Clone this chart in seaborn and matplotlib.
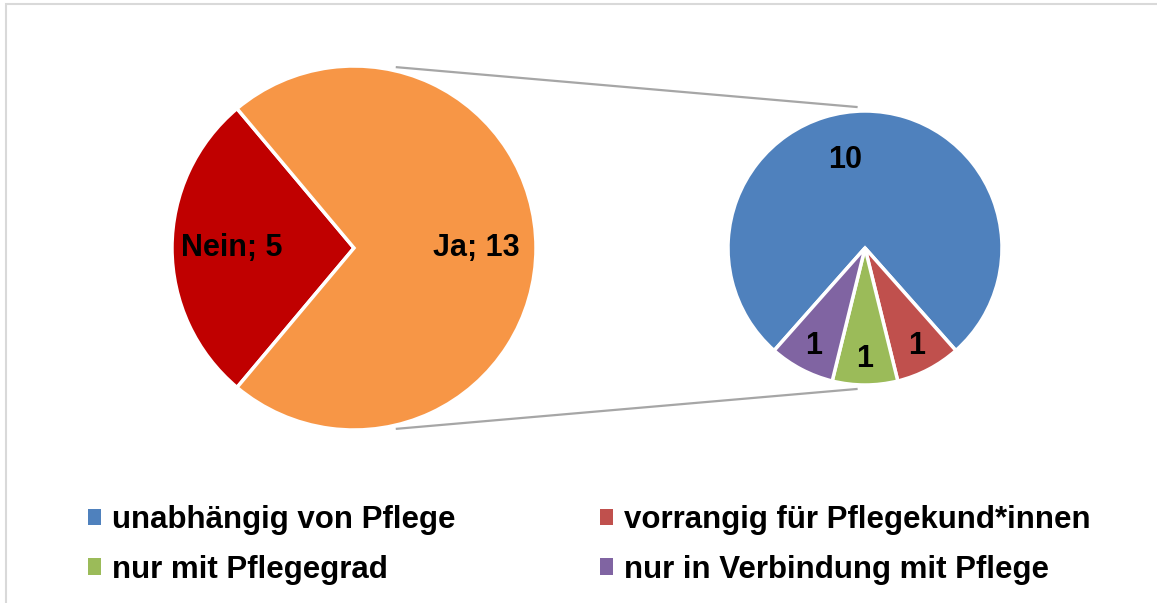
import matplotlib.pyplot as plt
import numpy as np
import seaborn as sns
from matplotlib.patches import Patch, Rectangle


# Hauptkreis: Angebot vorhanden?
MAIN_LABELS = ["Nein", "Ja"]
MAIN_VALUES = [5, 13]
MAIN_COLORS = ["#C00000", "#F79646"]

# Nebenkreis: Aufteilung der "Ja"-Antworten
SUB_LABELS = [
    "unabhängig von Pflege",
    "vorrangig für Pflegekund*innen",
    "nur mit Pflegegrad",
    "nur in Verbindung mit Pflege",
]
SUB_VALUES = [10, 1, 1, 1]
SUB_COLORS = ["#4F81BD", "#C0504D", "#9BBB59", "#8064A2"]

FIG_W, FIG_H = 1157, 603


def point_on(center, radius, angle_deg, scale=1.0):
    a = np.deg2rad(angle_deg)
    return (center[0] + scale * radius * np.cos(a), center[1] + scale * radius * np.sin(a))


def main() -> None:
    sns.set_theme(style="white")
    plt.rcParams["font.family"] = ["Liberation Sans", "DejaVu Sans"]

    fig = plt.figure(figsize=(FIG_W / 100, FIG_H / 100), dpi=100)
    ax = fig.add_axes([0, 0, 1, 1])

    main_center, main_radius = (354, FIG_H - 248), 182
    sub_center, sub_radius = (865, FIG_H - 248), 137

    label_style = {"fontsize": 22, "fontweight": "bold", "color": "black",
                   "ha": "center", "va": "center"}

    # Nein-Segment zentriert links
    main_start = 180 - MAIN_VALUES[0] / sum(MAIN_VALUES) * 180
    wedges, texts = ax.pie(
        MAIN_VALUES,
        labels=[f"{lab}; {val}" for lab, val in zip(MAIN_LABELS, MAIN_VALUES)],
        colors=MAIN_COLORS,
        startangle=main_start,
        center=main_center,
        radius=main_radius,
        labeldistance=0.67,
        wedgeprops={"edgecolor": "white", "linewidth": 2.5},
        textprops=label_style,
    )
    for t in texts:
        t.set_ha("center")

    # kleine Segmente unten zentriert, im Uhrzeigersinn
    small_share = sum(SUB_VALUES[1:]) / sum(SUB_VALUES) * 360
    sub_start = 270 - small_share / 2
    sub_wedges, sub_texts = ax.pie(
        SUB_VALUES,
        labels=[str(v) for v in SUB_VALUES],
        colors=SUB_COLORS,
        startangle=sub_start,
        counterclock=False,
        center=sub_center,
        radius=sub_radius,
        labeldistance=0.81,
        wedgeprops={"edgecolor": "white", "linewidth": 2.5},
        textprops=label_style,
    )
    for t in sub_texts:
        t.set_ha("center")
    x, y = sub_texts[0].get_position()
    sub_texts[0].set_position((x - 20, y - 23))

    # Verbindungslinien
    for sign in (1, -1):
        p0 = point_on(main_center, main_radius, sign * 77, 1.02)
        p1 = point_on(sub_center, sub_radius, sign * 93, 1.03)
        ax.plot([p0[0], p1[0]], [p0[1], p1[1]], color="#A6A6A6", lw=1.6,
                solid_capstyle="butt", zorder=0)

    ax.set_xlim(0, FIG_W)
    ax.set_ylim(0, FIG_H)
    ax.set_aspect("equal")
    ax.axis("off")

    # Rahmen des Diagrammbereichs
    fig.patches.append(Rectangle((6 / FIG_W, -0.1), 1.2, 1.1 - 4 / FIG_H,
                                 transform=fig.transFigure, fill=False,
                                 edgecolor="#D9D9D9", lw=1.5))

    order = [0, 2, 1, 3]
    handles = [Patch(facecolor=SUB_COLORS[i], edgecolor="none") for i in order]
    labels = [SUB_LABELS[i] for i in order]
    fig.legend(
        handles,
        labels,
        ncol=2,
        loc="upper left",
        bbox_to_anchor=(88 / FIG_W, 1 - 505 / FIG_H),
        frameon=False,
        prop={"weight": "bold", "size": 22.5},
        labelcolor="black",
        handlelength=0.42,
        handleheight=0.42,
        handletextpad=0.35,
        columnspacing=4.62,
        labelspacing=0.63,
        borderpad=0,
        borderaxespad=0,
    )

    fig.savefig("out.png", dpi=100)
    plt.close(fig)


if __name__ == "__main__":
    main()
